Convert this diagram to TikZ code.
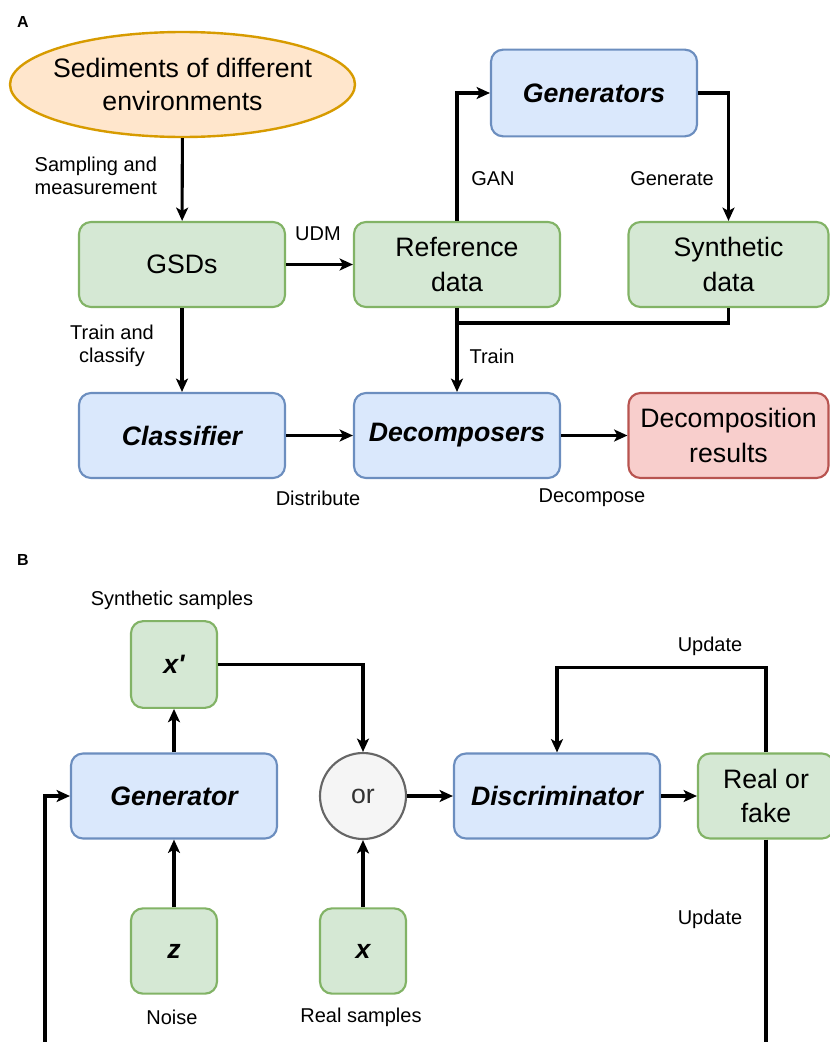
\documentclass[tikz,border=0pt]{standalone}
\usepackage{fontspec}
\setmainfont{Liberation Sans}
\usetikzlibrary{arrows.meta,shapes.geometric}
\definecolor{gfill}{HTML}{D5E8D4}
\definecolor{gline}{HTML}{82B366}
\definecolor{bfill}{HTML}{DAE8FC}
\definecolor{bline}{HTML}{6C8EBF}
\definecolor{rfill}{HTML}{F8CECC}
\definecolor{rline}{HTML}{B85450}
\definecolor{ofill}{HTML}{FFE6CC}
\definecolor{oline}{HTML}{D79B00}
\definecolor{cfill}{HTML}{F5F5F5}
\definecolor{cline}{HTML}{666666}
\begin{document}
\begin{tikzpicture}[x=0.75pt,y=-0.75pt,
    box/.style={draw, rounded corners=9pt, line width=1.6pt, minimum width=154.5pt,
        minimum height=63.75pt, align=center, inner sep=2pt,
        font=\fontsize{20}{26}\selectfont},
    greenbox/.style={box, draw=gline, fill=gfill},
    bluebox/.style={box, draw=bline, fill=bfill, font=\fontsize{20}{26}\selectfont\bfseries\itshape},
    lbl/.style={font=\fontsize{15}{17.5}\selectfont, align=center},
    flow/.style={line width=2.3pt, -{Stealth[length=10pt,width=9pt,inset=2.5pt]}},
    wire/.style={line width=2.3pt}
]
    \useasboundingbox (0,0) rectangle (830,1042);

    % A: workflow
    \node[font=\fontsize{12}{14}\selectfont\bfseries] (pa) at (23,22) {A};
    \node[ellipse, draw=oline, fill=ofill, line width=1.8pt, minimum width=258.75pt,
        minimum height=78.75pt, inner xsep=-8pt, inner ysep=0pt, align=center,
        font=\fontsize{20}{25}\selectfont] (sed) at (182.5,84.5) {Sediments of different\\environments};
    \node[greenbox] (gsd) at (182,264.5) {GSDs};
    \node[greenbox] (ref) at (457,264.5) {Reference\\data};
    \node[greenbox, minimum width=150pt] (syn) at (728.5,264.5) {Synthetic\\data};
    \node[bluebox, minimum height=65pt] (gens) at (594,93) {Generators};
    \node[bluebox] (cls) at (182,435.5) {Classifier};
    \node[bluebox] (dec) at (457,435.5) {Decomposers};
    \node[box, draw=rline, fill=rfill, minimum width=150pt] (res) at (728.5,435.5) {Decomposition\\results};
    \coordinate (join) at (457,323);

    \draw[flow] (sed) -- (gsd);
    \draw[flow] (gsd) -- (ref);
    \draw[flow] (ref.north) |- (gens.west);
    \draw[flow] (gens.east) -| (syn.north);
    \draw[wire] (syn.south) |- (join);
    \draw[flow] (ref.south) -- (dec.north);
    \draw[flow] (gsd) -- (cls);
    \draw[flow] (cls) -- (dec);
    \draw[flow] (dec) -- (res);

    \node[lbl, align=left, anchor=west] (lsamp) at (30,176) {Sampling and\\measurement};
    \node[lbl] (ludm) at (318,234) {UDM};
    \node[lbl] (lgan) at (493,179) {GAN};
    \node[lbl] (lgen) at (672,179) {Generate};
    \node[lbl] (ltrain) at (492,356) {Train};
    \node[lbl] (lcls) at (112,346) {Train and\\classify};
    \node[lbl] (ldist) at (318,498) {Distribute};
    \node[lbl] (ldec) at (592,498) {Decompose};

    % B: GAN
    \node[font=\fontsize{12}{14}\selectfont\bfseries] (pb) at (23,560) {B};
    \node[greenbox, minimum width=64.5pt, minimum height=65pt, font=\fontsize{20}{26}\selectfont\bfseries\itshape] (xp) at (174,664.5) {x\textquotesingle};
    \node[bluebox] (gen) at (174,796) {Generator};
    \node[circle, draw=cline, fill=cfill, line width=1.6pt, minimum size=64.5pt,
        text=black!80, font=\fontsize{20}{26}\selectfont] (orc) at (363,796) {or};
    \node[bluebox] (dis) at (557,796) {Discriminator};
    \node[greenbox, minimum width=102pt] (rof) at (766,796) {Real or\\fake};
    \node[greenbox, minimum width=64.5pt, minimum height=64pt, font=\fontsize{20}{26}\selectfont\bfseries\itshape] (z) at (174,951) {z};
    \node[greenbox, minimum width=64.5pt, minimum height=64pt, font=\fontsize{20}{26}\selectfont\bfseries\itshape] (xr) at (363,951) {x};
    \coordinate (botL) at (45,1060);
    \coordinate (botR) at (766,1060);

    \draw[flow] (gen) -- (xp);
    \draw[flow] (xp.east) -| (orc.north);
    \foreach \a/\b in {z/gen, xr/orc, orc/dis, dis/rof}
        \draw[flow] (\a) -- (\b);
    \draw[flow] (rof.north) -- ++(0,-85) -| (dis.north);
    \draw[wire] (rof.south) -- (botR);
    \draw[flow] (botL) |- (gen.west);

    \node[lbl] (lsyn) at (172,600) {Synthetic samples};
    \node[lbl] (lup1) at (710,646) {Update};
    \node[lbl] (lup2) at (710,919) {Update};
    \node[lbl] (lnoise) at (172,1017) {Noise};
    \node[lbl] (lreal) at (361,1017) {Real samples};
\end{tikzpicture}
\end{document}
